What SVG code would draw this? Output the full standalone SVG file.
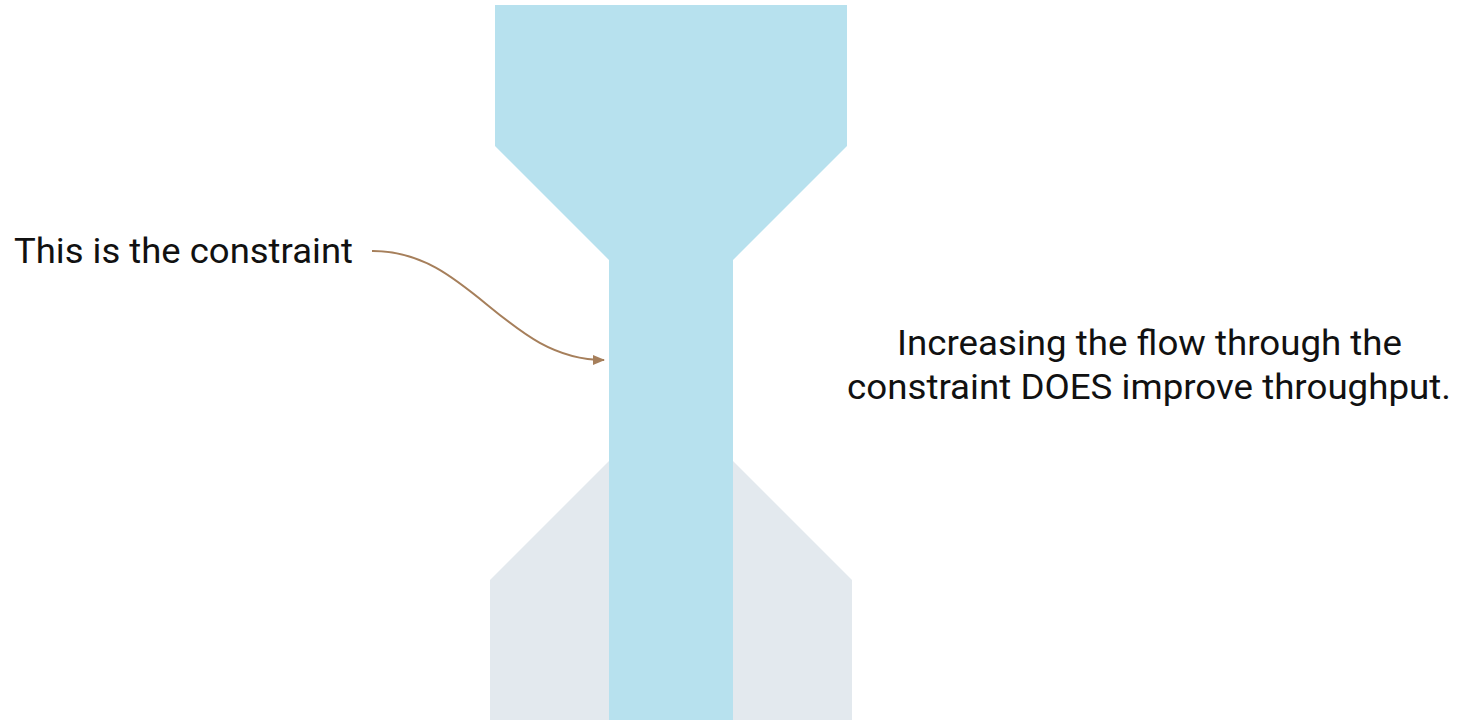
<svg xmlns="http://www.w3.org/2000/svg" width="1464" height="720" viewBox="0 0 1464 720">
<defs>
<style>
.lbl{font-family:Roboto,"Liberation Sans",sans-serif;font-size:35px;fill:#111;}
.blue{fill:#B7E1EE;}
.gray{fill:#E3E9EE;}
</style>
<marker id="ah" markerWidth="12" markerHeight="10" refX="11" refY="5" orient="auto" markerUnits="userSpaceOnUse">
<path d="M0,0 L12,5 L0,10 Z" fill="#A67F5B"/>
</marker>
</defs>
<rect width="1464" height="720" fill="#fff"/>
<g id="bottom-funnel">
<polygon class="gray" points="609,461 733,461 852,580 852,720 490,720 490,580"/>
</g>
<g id="top-funnel">
<polygon class="blue" points="495,5 847,5 847,146 733,260 733,720 609,720 609,260 495,146"/>
</g>
<g id="constraint-label">
<text class="lbl" x="14" y="263" textLength="339" lengthAdjust="spacingAndGlyphs">This is the constraint</text>
</g>
<g id="throughput-label">
<text class="lbl" x="897" y="355" textLength="505" lengthAdjust="spacingAndGlyphs">Increasing the flow through the</text>
<text class="lbl" x="847" y="399" textLength="604" lengthAdjust="spacingAndGlyphs">constraint DOES improve throughput.</text>
</g>
<g id="connectors">
<path d="M372,251 C470,250 505,360 604,360" fill="none" stroke="#A67F5B" stroke-width="2" marker-end="url(#ah)"/>
</g>
</svg>
